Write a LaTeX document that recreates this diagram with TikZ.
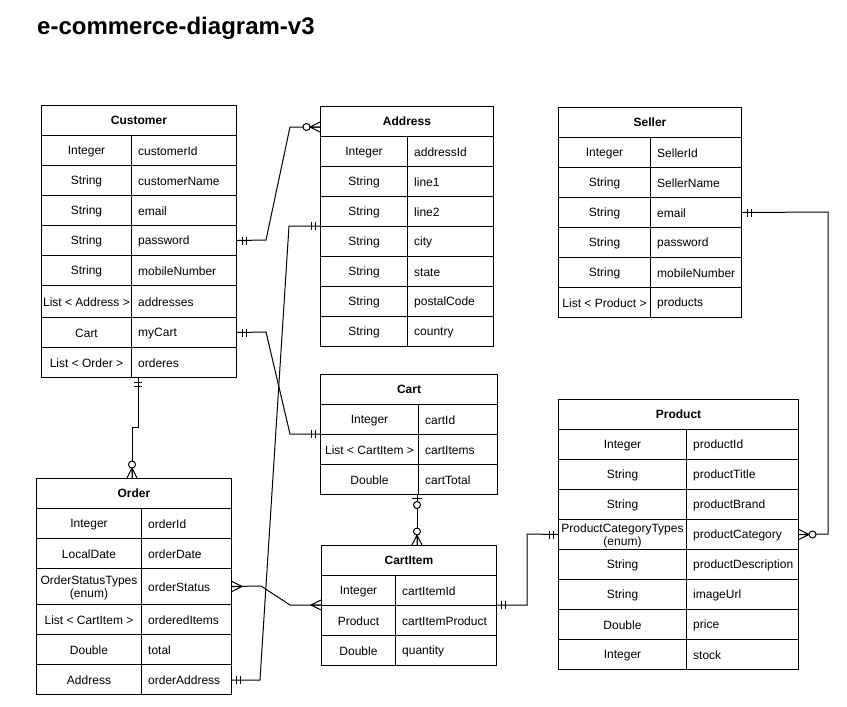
\documentclass[tikz,border=0pt]{standalone}
\usepackage{fontspec}
\setmainfont{Liberation Sans}
\newcommand\erow[8]{% name, x, y, wl, wr, h, left, right
  \node[cell, minimum width=#4pt, minimum height=#6pt] (#1L) at (#2,#3) {};
  \node[cell, minimum width=#5pt, minimum height=#6pt] (#1R) at (#2+#4,#3) {};
  \node[celltextc] (#1C) at ([yshift=-1pt]#1L.center) {#7};
  \node[celltext] (#1T) at ([xshift=7pt,yshift=-1pt]#1R.west) {#8};}
\newcommand\ehead[5]{% name, x, y, w, title
  \node[cell, minimum width=#4pt, minimum height=30pt, font=\fontsize{12}{14}\selectfont\bfseries] (#1) at (#2,#3) {#5};}
\newcommand\mkone[2]{\draw[conn, shift={(#1)}, rotate=#2] (5,-4) -- (5,4) (9,-4) -- (9,4);}
\newcommand\mkmany[2]{\draw[conn, shift={(#1)}, rotate=#2] (0,-5) -- (10,0) -- (0,5) (0,0) -- (10,0);}
\newcommand\mkzmany[2]{\draw[conn, shift={(#1)}, rotate=#2] (0,-5) -- (10,0) -- (0,5) (0,0) -- (10,0);
  \draw[conn, fill=white, shift={(#1)}, rotate=#2] (13.5,0) circle[radius=3.5pt];}
\newcommand\mkzone[2]{\draw[conn, shift={(#1)}, rotate=#2] (4,-5) -- (4,5);
  \draw[conn, fill=white, shift={(#1)}, rotate=#2] (11,0) circle[radius=3.5pt];}
\begin{document}
\begin{tikzpicture}[x=1pt,y=-1pt,
  cell/.style={draw, line width=1pt, inner sep=0pt, anchor=north west, align=center,
    font=\fontsize{12}{13}\selectfont},
  celltext/.style={anchor=west, inner sep=0pt, font=\fontsize{12}{14}\selectfont},
  celltextc/.style={anchor=center, inner sep=0pt, align=center, font=\fontsize{12}{13}\selectfont},
  conn/.style={draw, line width=1pt, line join=miter}]
\useasboundingbox (0,0) rectangle (847,707);
\node[anchor=west, inner sep=0pt, font=\fontsize{24}{28}\selectfont\bfseries] (title) at (37,28) {e-commerce-diagram-v3};

% Customer
\ehead{cu}{41}{105}{195}{Customer}
\erow{cuId}{41}{135}{90}{105}{30}{Integer}{customerId}
\erow{cuName}{41}{165}{90}{105}{30}{String}{customerName}
\erow{cuMail}{41}{195}{90}{105}{30}{String}{email}
\erow{cuPw}{41}{225}{90}{105}{30}{String}{password}
\erow{cuMob}{41}{255}{90}{105}{30}{String}{mobileNumber}
\erow{cuAdr}{41}{285}{90}{105}{32}{List < Address >}{addresses}
\erow{cuCart}{41}{317}{90}{105}{30}{Cart}{myCart}
\erow{cuOrd}{41}{347}{90}{105}{30}{List < Order >}{orderes}

% Address
\ehead{ad}{320}{106}{173}{Address}
\erow{adId}{320}{136}{87}{86}{30}{Integer}{addressId}
\erow{adL1}{320}{166}{87}{86}{30}{String}{line1}
\erow{adL2}{320}{196}{87}{86}{30}{String}{line2}
\erow{adCity}{320}{226}{87}{86}{30}{String}{city}
\erow{adState}{320}{256}{87}{86}{30}{String}{state}
\erow{adPC}{320}{286}{87}{86}{30}{String}{postalCode}
\erow{adCtry}{320}{316}{87}{86}{30}{String}{country}

% Seller
\ehead{se}{558}{107}{183}{Seller}
\erow{seId}{558}{137}{92}{91}{30}{Integer}{SellerId}
\erow{seName}{558}{167}{92}{91}{30}{String}{SellerName}
\erow{seMail}{558}{197}{92}{91}{30}{String}{email}
\erow{sePw}{558}{227}{92}{91}{30}{String}{password}
\erow{seMob}{558}{257}{92}{91}{30}{String}{mobileNumber}
\erow{seProd}{558}{287}{92}{91}{30}{List < Product >}{products}

% Cart
\ehead{ca}{320}{374}{177}{Cart}
\erow{caId}{320}{404}{98}{79}{30}{Integer}{cartId}
\erow{caItems}{320}{434}{98}{79}{30}{List < CartItem >}{cartItems}
\erow{caTot}{320}{464}{98}{79}{30}{Double}{cartTotal}

% CartItem
\ehead{ci}{321}{545}{175}{CartItem}
\erow{ciId}{321}{575}{74}{101}{30}{Integer}{cartItemId}
\erow{ciProd}{321}{605}{74}{101}{30}{Product}{cartItemProduct}
\erow{ciQty}{321}{635}{74}{101}{30}{Double}{quantity}

% Product
\ehead{pr}{558}{399}{240}{Product}
\erow{prId}{558}{429}{128}{112}{30}{Integer}{productId}
\erow{prTitle}{558}{459}{128}{112}{30}{String}{productTitle}
\erow{prBrand}{558}{489}{128}{112}{30}{String}{productBrand}
\erow{prCat}{558}{519}{128}{112}{30}{ProductCategoryTypes\\(enum)}{productCategory}
\erow{prDesc}{558}{549}{128}{112}{30}{String}{productDescription}
\erow{prImg}{558}{579}{128}{112}{30}{String}{imageUrl}
\erow{prPrice}{558}{609}{128}{112}{30}{Double}{price}
\erow{prStock}{558}{639}{128}{112}{30}{Integer}{stock}

% Order
\ehead{or}{36}{478}{195}{Order}
\erow{orId}{36}{508}{105}{90}{30}{Integer}{orderId}
\erow{orDate}{36}{538}{105}{90}{30}{LocalDate}{orderDate}
\erow{orStat}{36}{568}{105}{90}{36}{OrderStatusTypes\\(enum)}{orderStatus}
\erow{orItems}{36}{604}{105}{90}{30}{List < CartItem >}{orderedItems}
\erow{orTot}{36}{634}{105}{90}{30}{Double}{total}
\erow{orAdr}{36}{664}{105}{90}{30}{Address}{orderAddress}

% connector end points and bends
\coordinate (p1s) at (cuPwR.east);
\coordinate (p1a) at (266,240);
\coordinate (p1b) at (290,127);
\coordinate (p1e) at (320,127);

\coordinate (p2s) at (cuCartR.east);
\coordinate (p2a) at (266,332);
\coordinate (p2b) at (290,434);
\coordinate (p2e) at (320,434);

\coordinate (p3s) at (138,377);
\coordinate (p3a) at (138,427);
\coordinate (p3b) at (132,427);
\coordinate (p3e) at (132,478);

\coordinate (p4s) at (orStatR.east);
\coordinate (p4a) at (261,586);
\coordinate (p4b) at (290,605);
\coordinate (p4e) at (321,605);

\coordinate (p5s) at (231,680);
\coordinate (p5a) at (260,680);
\coordinate (p5b) at (289,226);
\coordinate (p5e) at (320,226);

\coordinate (p6s) at (417,494);
\coordinate (p6e) at (417,545);

\coordinate (p7s) at (496,605);
\coordinate (p7a) at (527,605);
\coordinate (p7b) at (527,534);
\coordinate (p7e) at (prCatL.west);

\coordinate (p8s) at (seMailR.east);
\coordinate (p8a) at (828,212);
\coordinate (p8b) at (828,534);
\coordinate (p8e) at (prCatR.east);

\draw[conn] (p1s) -- (p1a) -- (p1b) -- (p1e);
\draw[conn] (p2s) -- (p2a) -- (p2b) -- (p2e);
\draw[conn] (p3s) -- (p3a) -- (p3b) -- (p3e);
\draw[conn] (p4s) -- (p4a) -- (p4b) -- (p4e);
\draw[conn] (p5s) -- (p5a) -- (p5b) -- (p5e);
\draw[conn] (p6s) -- (p6e);
\draw[conn] (p7s) -- (p7a) -- (p7b) -- (p7e);
\draw[conn] (p8s) -- (p8a) -- (p8b) -- (p8e);

% markers
\mkone{p1s}{0}
\mkzmany{p1e}{180}
\mkone{p2s}{0}
\mkone{p2e}{180}
\mkone{p3s}{-90}
\mkzmany{p3e}{90}
\mkmany{p4s}{0}
\mkmany{p4e}{180}
\mkone{p5s}{0}
\mkone{p5e}{180}
\mkzone{p6s}{-90}
\mkzmany{p6e}{90}
\mkone{p7s}{0}
\mkone{p7e}{180}
\mkone{p8s}{0}
\mkzmany{p8e}{0}
\end{tikzpicture}
\end{document}
